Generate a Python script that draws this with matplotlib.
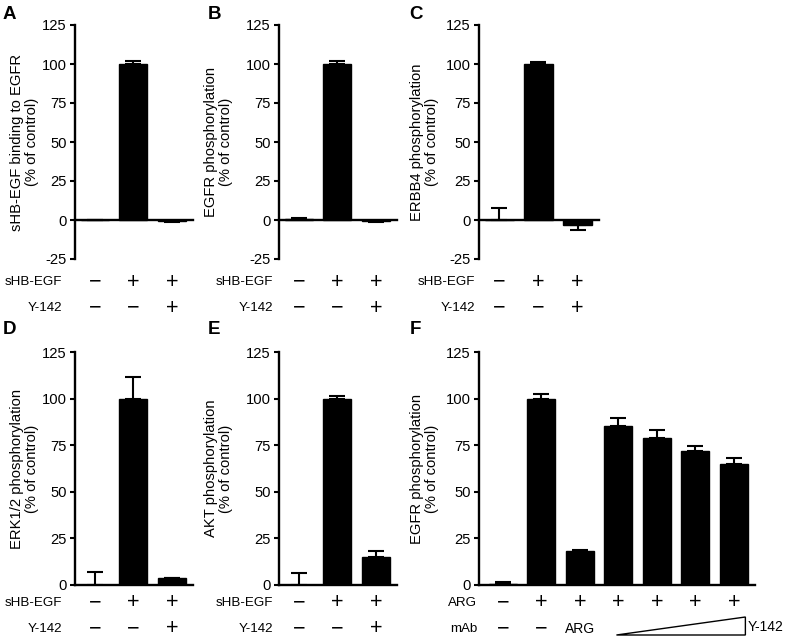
import matplotlib
matplotlib.use('Agg')
import matplotlib.pyplot as plt
from matplotlib.patches import Polygon
import numpy as np

plt.rcParams['font.family'] = ['Liberation Sans', 'DejaVu Sans']
plt.rcParams['axes.unicode_minus'] = False

W, H = 790, 641

# valores (% del control)
a_vals = [0.0, 100.0, -0.8]
a_errs = [0.3, 2.0, 0.5]
b_vals = [0.8, 100.0, -0.8]
b_errs = [0.3, 2.0, 0.3]
c_vals = [0.0, 100.0, -3.5]
c_errs = [7.5, 1.2, 3.0]
d_vals = [0.0, 100.0, 3.5]
d_errs = [6.8, 11.5, 0.3]
e_vals = [0.0, 100.0, 15.0]
e_errs = [6.2, 1.5, 3.2]
f_vals = [0.3, 100.0, 18.5, 85.5, 79.0, 72.0, 65.0]
f_errs = [1.3, 2.5, 0.5, 4.0, 4.0, 2.5, 3.0]

ylabels = {
    'A': 'sHB-EGF binding to EGFR\n(% of control)',
    'B': 'EGFR phosphorylation\n(% of control)',
    'C': 'ERBB4 phosphorylation\n(% of control)',
    'D': 'ERK1/2 phosphorylation\n(% of control)',
    'E': 'AKT phosphorylation\n(% of control)',
    'F': 'EGFR phosphorylation\n(% of control)',
}

row_names = ['sHB-EGF', 'Y-142']
row_signs = [['−', '+', '+'], ['−', '−', '+']]
f_row_names = ['ARG', 'mAb']
f_row1 = ['−', '+', '+', '+', '+', '+', '+']
f_row2 = ['−', '−', 'ARG']
yticks_top = [-25, 0, 25, 50, 75, 100, 125]
yticks_bot = [0, 25, 50, 75, 100, 125]

FS = 10.6


def px_rect(l, t, r, b):
    return [l / W, 1 - b / H, (r - l) / W, (b - t) / H]


def draw_panel(ax, vals, errs, ylim, yticks, ylabel, label_off):
    x = np.arange(len(vals))
    ax.bar(x, vals, width=0.73, color='black', edgecolor='black', linewidth=1)
    lower = [e if v < 0 else 0 for v, e in zip(vals, errs)]
    upper = [0 if v < 0 else e for v, e in zip(vals, errs)]
    ax.errorbar(x, vals, yerr=[lower, upper], fmt='none', ecolor='black',
                elinewidth=1.5, capsize=5.5, capthick=1.5)
    ax.set_xlim(-0.52, len(vals) - 1 + 0.55)
    ax.set_ylim(*ylim)
    ax.set_yticks(yticks)
    ax.set_yticklabels([str(t) for t in yticks])
    ax.set_xticks([])
    for s in ['top', 'right']:
        ax.spines[s].set_visible(False)
    ax.spines['left'].set_linewidth(1.7)
    ax.spines['bottom'].set_linewidth(1.7)
    ax.spines['bottom'].set_position(('data', 0))
    ax.tick_params(axis='y', direction='out', length=3.5, width=1.5,
                   labelsize=FS, pad=2.5)
    ax.set_ylabel(ylabel, fontsize=FS, linespacing=1.1)
    w = ax.get_position().width * W
    ax.yaxis.set_label_coords(-label_off / w, 0.5)


def draw_rows(ax, names, rows, ys_px, name_off, bottom_px):
    h = ax.get_position().height * H
    w = ax.get_position().width * W
    trans = ax.get_xaxis_transform()
    for name, row, ypx in zip(names, rows, ys_px):
        yax = (bottom_px - ypx) / h
        ax.text(-name_off / w, yax, name, transform=ax.transAxes,
                ha='right', va='center', fontsize=9.6)
        for i, s in enumerate(row):
            fs = 15.5 if s in ('+', '−') else 10
            ax.text(i, yax, s, transform=trans, ha='center', va='center',
                    fontsize=fs, clip_on=False)


fig = plt.figure(figsize=(W / 100, H / 100), dpi=100)

panels_top = [('A', a_vals, a_errs, (75, 193), 36, 13),
              ('B', b_vals, b_errs, (279, 397), 46, 6),
              ('C', c_vals, c_errs, (479, 599), 40, 4)]
letters_x = {'A': 3, 'B': 208, 'C': 409, 'D': 3, 'E': 208, 'F': 410}

for key, vals, errs, (l, r), loff, noff in panels_top:
    ax = fig.add_axes(px_rect(l, 25, r, 259))
    draw_panel(ax, vals, errs, (-25, 125), yticks_top, ylabels[key], loff)
    draw_rows(ax, row_names, row_signs, [282, 308], noff, 259)
    fig.text(letters_x[key] / W, 1 - 6 / H, key, fontsize=13.5,
             fontweight='bold', va='top', ha='left')

panels_bot = [('D', d_vals, d_errs, (75, 193), 36, 13),
              ('E', e_vals, e_errs, (279, 397), 46, 6)]

for key, vals, errs, (l, r), loff, noff in panels_bot:
    ax = fig.add_axes(px_rect(l, 352, r, 585))
    draw_panel(ax, vals, errs, (0, 125), yticks_bot, ylabels[key], loff)
    draw_rows(ax, row_names, row_signs, [603, 629], noff, 585)
    fig.text(letters_x[key] / W, 1 - 321 / H, key, fontsize=13.5,
             fontweight='bold', va='top', ha='left')

# panel F
ax = fig.add_axes(px_rect(479, 352, 755, 585))
draw_panel(ax, f_vals, f_errs, (0, 125), yticks_bot, ylabels['F'], 40)
ax.set_xlim(-0.62, len(f_vals) - 1 + 0.55)
draw_rows(ax, f_row_names, [f_row1, f_row2], [603, 629], 2, 585)
fig.text(letters_x['F'] / W, 1 - 321 / H, 'F', fontsize=13.5,
         fontweight='bold', va='top', ha='left')

# triangulo de dosis creciente de Y-142
hF = ax.get_position().height * H
y_lo = (585 - 635) / hF
y_hi = (585 - 617) / hF
tri = Polygon([[2.95, y_lo], [6.3, y_hi], [6.3, y_lo]], closed=True,
              facecolor='white', edgecolor='black', linewidth=1,
              transform=ax.get_xaxis_transform(), clip_on=False)
ax.add_patch(tri)
ax.text(6.36, (585 - 627) / hF, 'Y-142', transform=ax.get_xaxis_transform(),
        ha='left', va='center', fontsize=10)

fig.savefig('out.png', dpi=100)
